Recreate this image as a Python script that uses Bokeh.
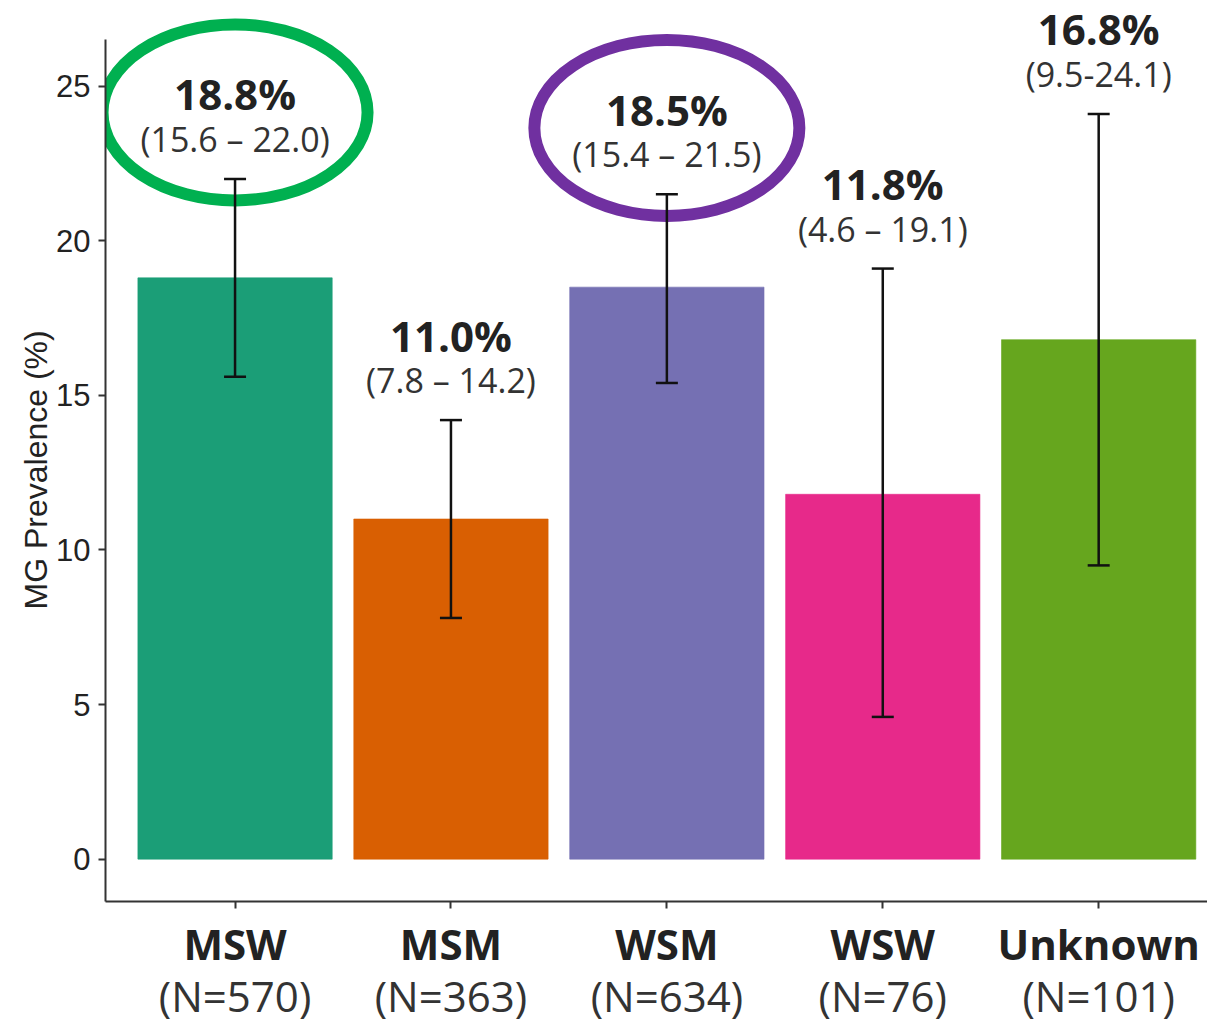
from bokeh.core.properties import value
from bokeh.embed import file_html
from bokeh.models import (ColumnDataSource, FixedTicker, LinearAxis, Range1d,
                          TeeHead, Title, Whisker)
from bokeh.plotting import figure
from bokeh.resources import INLINE

# MG prevalence by sexual behaviour group
groups = ["MSW", "MSM", "WSM", "WSW", "Unknown"]
sizes = [570, 363, 634, 76, 101]
prevalence = [18.8, 11.0, 18.5, 11.8, 16.8]
ci_lower = [15.6, 7.8, 15.4, 4.6, 9.5]
ci_upper = [22.0, 14.2, 21.5, 19.1, 24.1]
ci_labels = ["(15.6 – 22.0)", "(7.8 – 14.2)", "(15.4 – 21.5)", "(4.6 – 19.1)", "(9.5-24.1)"]
bar_colors = ["#1B9E77", "#D95F02", "#7570B3", "#E7298A", "#66A61E"]
circled = {"MSW": "#00B050", "WSM": "#7030A0"}
y_ticks = [0, 5, 10, 15, 20, 25]

xs = list(range(len(groups)))
src = ColumnDataSource(dict(
    x=xs,
    prev=prevalence,
    lower=ci_lower,
    upper=ci_upper,
    color=bar_colors,
    pct=[f"{v:.1f}%" for v in prevalence],
    ci=ci_labels,
))

p = figure(
    width=1207, height=1026,
    x_range=Range1d(-0.6, 4.504), y_range=Range1d(-1.37, 27.77),
    x_axis_type=None, y_axis_type=None,
    toolbar_location=None, output_backend="svg",
    min_border_left=105, min_border_right=0, min_border_top=0, min_border_bottom=122,
    outline_line_color=None, background_fill_color="white", border_fill_color="white",
)

# y axis
yaxis = LinearAxis(ticker=FixedTicker(ticks=y_ticks), bounds=(-1.37, 26.5))
yaxis.axis_line_width = 2
yaxis.axis_line_color = "#333333"
yaxis.major_tick_line_color = "#333333"
yaxis.major_tick_line_width = 2
yaxis.major_tick_out = 7
yaxis.major_tick_in = 0
yaxis.minor_tick_line_color = None
yaxis.major_label_standoff = 8
yaxis.major_label_text_font = "Liberation Sans"
yaxis.major_label_text_font_size = "31px"
yaxis.major_label_text_color = "#222222"
p.add_layout(yaxis, "left")

# axis title, centred on the drawn part of the y axis
p.add_layout(Title(text="MG Prevalence (%)", align="left", offset=292,
                   text_font="Liberation Sans", text_font_size="32px",
                   text_font_style="normal", text_color="#222222",
                   standoff=0), "left")

# x axis: group names in bold, sample sizes underneath
xaxis = LinearAxis(ticker=FixedTicker(ticks=xs),
                   major_label_overrides={i: g for i, g in zip(xs, groups)})
xaxis.axis_line_width = 2
xaxis.axis_line_color = "#333333"
xaxis.major_tick_line_color = "#333333"
xaxis.major_tick_line_width = 2
xaxis.major_tick_out = 7
xaxis.major_tick_in = 0
xaxis.minor_tick_line_color = None
xaxis.major_label_standoff = 6
xaxis.major_label_text_font = "Open Sans"
xaxis.major_label_text_font_style = "bold"
xaxis.major_label_text_font_size = "42px"
xaxis.major_label_text_color = "#222222"
p.add_layout(xaxis, "below")

naxis = LinearAxis(ticker=FixedTicker(ticks=xs),
                   major_label_overrides={i: f"(N={n})" for i, n in zip(xs, sizes)})
naxis.axis_line_color = None
naxis.major_tick_line_color = None
naxis.major_tick_out = 0
naxis.major_tick_in = 0
naxis.minor_tick_line_color = None
naxis.major_label_standoff = -8
naxis.major_label_text_font = "Open Sans"
naxis.major_label_text_font_size = "42px"
naxis.major_label_text_color = "#333333"
p.add_layout(naxis, "below")

# bars
p.vbar(x="x", top="prev", bottom=0, width=0.9, fill_color="color",
       line_color="color", line_alpha=0.6, source=src)

# confidence intervals
p.add_layout(Whisker(
    base="x", lower="lower", upper="upper", source=src, level="overlay",
    line_width=2.5, line_color="#111111",
    upper_head=TeeHead(size=22, line_width=2.5, line_color="#111111"),
    lower_head=TeeHead(size=22, line_width=2.5, line_color="#111111"),
))

# value labels
p.text(x="x", y="upper", text="ci", source=src, y_offset=-40,
       text_align="center", text_baseline="alphabetic",
       text_font=value("Open Sans"), text_font_size="34px", text_color="#333333")
p.text(x="x", y="upper", text="pct", source=src, y_offset=-85,
       text_align="center", text_baseline="alphabetic",
       text_font=value("Open Sans"), text_font_style="bold",
       text_font_size="42px", text_color="#222222")

# highlight rings around selected groups
ring_src = ColumnDataSource(dict(
    x=[xs[groups.index(g)] for g in circled],
    y=[ci_upper[groups.index(g)] + 2.15 for g in circled],
    color=list(circled.values()),
))
p.ellipse(x="x", y="y", width=265, height=176, width_units="screen",
          height_units="screen", fill_color=None, line_color="color",
          line_width=12, source=ring_src)

open("out.html", "w").write(file_html(p, INLINE))
